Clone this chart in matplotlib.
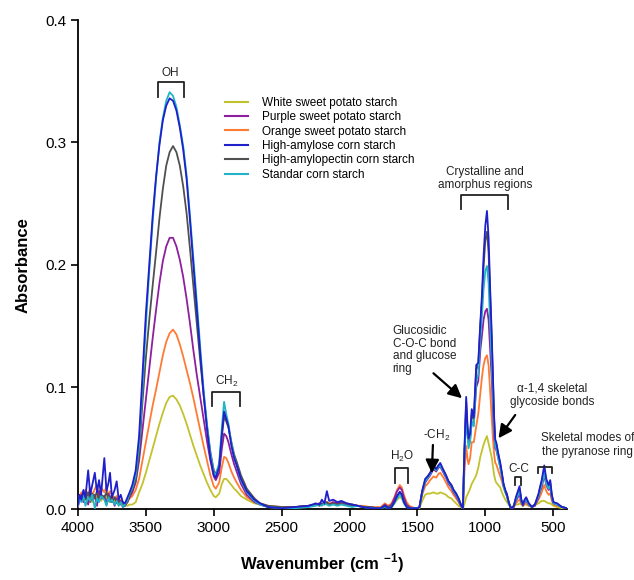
import matplotlib
matplotlib.use("Agg")
import matplotlib.pyplot as plt

plt.rcParams['font.family'] = ['Liberation Sans', 'DejaVu Sans']
plt.rcParams['mathtext.fontset'] = 'custom'
plt.rcParams['mathtext.rm'] = 'Liberation Sans'
plt.rcParams['mathtext.bf'] = 'Liberation Sans:bold'

# ---------------- data ----------------
wavenumber = [
    4000, 3990, 3975, 3960, 3945, 3925, 3910, 3895, 3876, 3860, 3845, 3830, 3806,
    3790, 3775, 3764, 3750, 3730, 3715, 3700, 3685, 3670, 3654, 3635, 3620,
    3600, 3575, 3550, 3525, 3500, 3475, 3450, 3425, 3400, 3375, 3350, 3325, 3300,
    3275, 3250, 3225, 3200, 3175, 3150, 3125, 3100, 3075, 3050, 3025, 3000,
    2985, 2960, 2940, 2924, 2908, 2892, 2870, 2850, 2831, 2800, 2757, 2700,
    2659, 2600, 2500, 2400, 2300, 2250, 2220, 2204, 2185, 2167,
    2150, 2120, 2090, 2060, 2020, 1980, 1940, 1900, 1850, 1800,
    1770, 1740, 1715, 1690, 1670, 1650, 1630, 1615, 1600, 1580, 1560, 1540, 1520, 1500,
    1485, 1465, 1443, 1425, 1406, 1382, 1362, 1345, 1332, 1308, 1290, 1271, 1250, 1234, 1215, 1197,
    1180, 1165, 1155, 1141, 1132, 1124, 1112, 1100, 1085, 1067, 1052, 1037,
    1025, 1013, 1000, 988, 976, 964, 952, 944, 935, 927, 920, 905,
    890, 878, 866, 853, 841, 828, 816, 804, 790, 775, 760, 748, 735, 723, 711, 699,
    680, 657, 635, 608, 596, 585, 566, 551, 534, 522, 510, 498, 470, 436, 400,
]

white_sweet_potato = [
    0.005, 0.011, 0.008, 0.013, 0.009, 0.014, 0.010, 0.006, 0.012, 0.009, 0.013, 0.007, 0.011,
    0.008, 0.012, 0.006, 0.010, 0.007, 0.009, 0.005, 0.007, 0.003, 0.004, 0.003, 0.004,
    0.004, 0.006, 0.014, 0.021, 0.030, 0.040, 0.050, 0.060, 0.070, 0.079, 0.087, 0.092, 0.093,
    0.090, 0.085, 0.078, 0.070, 0.061, 0.052, 0.044, 0.036, 0.029, 0.022, 0.016, 0.011,
    0.010, 0.013, 0.021, 0.025, 0.025, 0.023, 0.020, 0.017, 0.015, 0.011, 0.008, 0.005,
    0.004, 0.002, 0.002, 0.002, 0.003, 0.004, 0.005, 0.004, 0.005, 0.006,
    0.004, 0.005, 0.004, 0.005, 0.004, 0.004, 0.003, 0.002, 0.002, 0.001,
    0.001, 0.003, 0.002, 0.002, 0.005, 0.008, 0.010, 0.009, 0.006, 0.003, 0.001, 0.001, 0.001, 0.001,
    0.001, 0.007, 0.012, 0.013, 0.013, 0.014, 0.013, 0.013, 0.014, 0.013, 0.012, 0.010, 0.009, 0.007, 0.005, 0.003,
    0.002, 0.001, 0.004, 0.010, 0.012, 0.014, 0.017, 0.021, 0.024, 0.028, 0.034, 0.043,
    0.048, 0.053, 0.057, 0.060, 0.054, 0.048, 0.042, 0.035, 0.028, 0.024, 0.022, 0.020,
    0.018, 0.014, 0.011, 0.008, 0.006, 0.004, 0.003, 0.002, 0.003, 0.004, 0.004, 0.005, 0.004, 0.003, 0.004, 0.004,
    0.003, 0.003, 0.004, 0.005, 0.006, 0.007, 0.007, 0.006, 0.005, 0.005, 0.004, 0.003, 0.002, 0.001, 0.001,
]

purple_sweet_potato = [
    0.002, 0.008, 0.012, 0.006, 0.013, 0.004, 0.014, 0.008, 0.012, 0.003, 0.015, 0.009, 0.011,
    0.004, 0.013, 0.007, 0.010, 0.003, 0.009, 0.004, 0.007, 0.002, 0.003, 0.006, 0.010,
    0.014, 0.022, 0.040, 0.065, 0.090, 0.115, 0.140, 0.163, 0.185, 0.203, 0.215, 0.222, 0.222,
    0.215, 0.204, 0.190, 0.172, 0.152, 0.130, 0.110, 0.092, 0.074, 0.056, 0.040, 0.027,
    0.024, 0.030, 0.050, 0.062, 0.060, 0.055, 0.045, 0.037, 0.031, 0.021, 0.012, 0.006,
    0.004, 0.002, 0.001, 0.002, 0.003, 0.004, 0.005, 0.004, 0.006, 0.005,
    0.004, 0.006, 0.005, 0.006, 0.004, 0.004, 0.003, 0.002, 0.002, 0.001,
    0.001, 0.004, 0.002, 0.004, 0.009, 0.015, 0.018, 0.016, 0.010, 0.004, 0.002, 0.001, 0.001, 0.001,
    0.002, 0.014, 0.022, 0.025, 0.028, 0.033, 0.031, 0.034, 0.035, 0.030, 0.026, 0.021, 0.018, 0.014, 0.011, 0.007,
    0.003, 0.001, 0.040, 0.080, 0.063, 0.055, 0.058, 0.072, 0.070, 0.100, 0.105, 0.130,
    0.142, 0.155, 0.162, 0.164, 0.155, 0.130, 0.105, 0.082, 0.060, 0.050, 0.049, 0.042,
    0.035, 0.028, 0.020, 0.015, 0.013, 0.006, 0.002, 0.001, 0.002, 0.007, 0.010, 0.012, 0.006, 0.003, 0.006, 0.007,
    0.004, 0.002, 0.003, 0.010, 0.015, 0.018, 0.028, 0.020, 0.016, 0.018, 0.009, 0.005, 0.004, 0.002, 0.001,
]

orange_sweet_potato = [
    0.006, 0.010, 0.014, 0.009, 0.016, 0.012, 0.018, 0.011, 0.017, 0.020, 0.012, 0.018, 0.014,
    0.019, 0.010, 0.015, 0.012, 0.009, 0.011, 0.006, 0.008, 0.005, 0.004, 0.007, 0.009,
    0.011, 0.016, 0.025, 0.040, 0.055, 0.070, 0.085, 0.098, 0.112, 0.126, 0.137, 0.144, 0.147,
    0.143, 0.135, 0.125, 0.114, 0.103, 0.091, 0.078, 0.065, 0.052, 0.040, 0.028, 0.019,
    0.017, 0.022, 0.035, 0.043, 0.042, 0.038, 0.031, 0.026, 0.022, 0.016, 0.010, 0.006,
    0.005, 0.003, 0.002, 0.002, 0.003, 0.004, 0.005, 0.004, 0.005, 0.006,
    0.005, 0.006, 0.004, 0.005, 0.005, 0.004, 0.003, 0.003, 0.002, 0.002,
    0.002, 0.005, 0.003, 0.005, 0.010, 0.016, 0.020, 0.018, 0.012, 0.006, 0.003, 0.002, 0.001, 0.001,
    0.002, 0.012, 0.019, 0.021, 0.024, 0.027, 0.026, 0.029, 0.030, 0.026, 0.022, 0.018, 0.015, 0.012, 0.009, 0.006,
    0.003, 0.001, 0.028, 0.052, 0.042, 0.037, 0.042, 0.055, 0.055, 0.068, 0.078, 0.095,
    0.108, 0.118, 0.124, 0.126, 0.118, 0.095, 0.072, 0.058, 0.045, 0.038, 0.037, 0.032,
    0.027, 0.023, 0.018, 0.014, 0.011, 0.006, 0.002, 0.001, 0.002, 0.005, 0.007, 0.008, 0.005, 0.003, 0.005, 0.005,
    0.003, 0.002, 0.003, 0.008, 0.011, 0.014, 0.020, 0.015, 0.012, 0.013, 0.007, 0.004, 0.003, 0.002, 0.001,
]

high_amylose_corn = [
    0.004, 0.012, 0.008, 0.016, 0.010, 0.032, 0.012, 0.020, 0.030, 0.014, 0.024, 0.012, 0.042,
    0.015, 0.022, 0.030, 0.010, 0.016, 0.023, 0.008, 0.012, 0.006, 0.005, 0.010, 0.014,
    0.020, 0.032, 0.060, 0.110, 0.160, 0.200, 0.240, 0.272, 0.298, 0.318, 0.330, 0.336, 0.334,
    0.326, 0.312, 0.294, 0.270, 0.236, 0.200, 0.165, 0.128, 0.094, 0.066, 0.042, 0.028,
    0.026, 0.035, 0.062, 0.080, 0.074, 0.068, 0.052, 0.042, 0.036, 0.025, 0.015, 0.008,
    0.005, 0.002, 0.001, 0.002, 0.003, 0.005, 0.004, 0.008, 0.005, 0.015,
    0.007, 0.008, 0.006, 0.007, 0.005, 0.004, 0.003, 0.002, 0.001, 0.001,
    0.001, 0.003, 0.001, 0.002, 0.006, 0.011, 0.0145, 0.012, 0.006, 0.002, 0.001, 0.001, 0.001, 0.001,
    0.002, 0.015, 0.025, 0.027, 0.030, 0.036, 0.033, 0.036, 0.038, 0.032, 0.028, 0.023, 0.020, 0.016, 0.013, 0.009,
    0.004, 0.001, 0.045, 0.092, 0.070, 0.058, 0.062, 0.082, 0.075, 0.118, 0.120, 0.152,
    0.175, 0.207, 0.232, 0.244, 0.222, 0.179, 0.140, 0.109, 0.075, 0.057, 0.055, 0.046,
    0.038, 0.030, 0.021, 0.016, 0.012, 0.006, 0.002, 0.001, 0.003, 0.010, 0.015, 0.019, 0.008, 0.004, 0.008, 0.010,
    0.005, 0.002, 0.004, 0.013, 0.019, 0.024, 0.036, 0.025, 0.020, 0.024, 0.012, 0.006, 0.005, 0.002, 0.001,
]

high_amylopectin_corn = [
    0.004, 0.010, 0.007, 0.012, 0.008, 0.014, 0.006, 0.013, 0.009, 0.015, 0.008, 0.012, 0.010,
    0.014, 0.007, 0.011, 0.006, 0.010, 0.005, 0.008, 0.004, 0.006, 0.003, 0.007, 0.011,
    0.016, 0.024, 0.045, 0.088, 0.124, 0.155, 0.183, 0.210, 0.238, 0.262, 0.281, 0.292, 0.297,
    0.292, 0.281, 0.264, 0.242, 0.213, 0.182, 0.152, 0.122, 0.094, 0.068, 0.047, 0.032,
    0.029, 0.036, 0.060, 0.076, 0.072, 0.067, 0.055, 0.045, 0.039, 0.028, 0.017, 0.009,
    0.005, 0.003, 0.002, 0.002, 0.003, 0.004, 0.003, 0.005, 0.004, 0.006,
    0.004, 0.005, 0.004, 0.005, 0.004, 0.003, 0.003, 0.002, 0.002, 0.001,
    0.001, 0.003, 0.002, 0.003, 0.006, 0.011, 0.014, 0.012, 0.007, 0.003, 0.001, 0.001, 0.001, 0.001,
    0.002, 0.015, 0.024, 0.027, 0.030, 0.035, 0.033, 0.036, 0.037, 0.032, 0.028, 0.023, 0.020, 0.016, 0.013, 0.009,
    0.004, 0.001, 0.044, 0.088, 0.067, 0.057, 0.060, 0.078, 0.073, 0.114, 0.118, 0.150,
    0.170, 0.198, 0.220, 0.227, 0.210, 0.172, 0.135, 0.105, 0.073, 0.056, 0.054, 0.045,
    0.037, 0.029, 0.020, 0.015, 0.011, 0.006, 0.002, 0.001, 0.003, 0.009, 0.014, 0.017, 0.008, 0.004, 0.007, 0.009,
    0.005, 0.002, 0.004, 0.012, 0.018, 0.022, 0.033, 0.023, 0.019, 0.022, 0.011, 0.006, 0.004, 0.002, 0.001,
]

standard_corn = [
    0.003, 0.009, 0.006, 0.011, 0.003, 0.010, 0.007, 0.012, 0.001, 0.009, 0.006, 0.011, 0.008,
    0.003, 0.010, 0.006, 0.008, 0.004, 0.007, 0.003, 0.006, 0.002, 0.004, 0.008, 0.013,
    0.018, 0.028, 0.052, 0.100, 0.150, 0.195, 0.235, 0.270, 0.300, 0.320, 0.334, 0.341, 0.338,
    0.329, 0.314, 0.297, 0.273, 0.240, 0.205, 0.170, 0.133, 0.098, 0.070, 0.046, 0.030,
    0.028, 0.038, 0.068, 0.088, 0.078, 0.070, 0.054, 0.043, 0.036, 0.024, 0.014, 0.007,
    0.004, 0.002, 0.001, 0.001, 0.002, 0.003, 0.004, 0.003, 0.005, 0.004,
    0.003, 0.004, 0.003, 0.004, 0.003, 0.002, 0.003, 0.002, 0.001, 0.001,
    0.001, 0.002, 0.001, 0.002, 0.005, 0.009, 0.012, 0.010, 0.005, 0.002, 0.001, 0.001, 0.001, 0.001,
    0.002, 0.014, 0.023, 0.026, 0.029, 0.034, 0.032, 0.035, 0.036, 0.031, 0.027, 0.022, 0.019, 0.015, 0.012, 0.008,
    0.004, 0.001, 0.040, 0.082, 0.062, 0.050, 0.055, 0.072, 0.068, 0.105, 0.110, 0.140,
    0.158, 0.180, 0.195, 0.199, 0.185, 0.150, 0.118, 0.092, 0.066, 0.052, 0.050, 0.042,
    0.034, 0.027, 0.019, 0.014, 0.011, 0.005, 0.002, 0.001, 0.003, 0.008, 0.012, 0.015, 0.007, 0.004, 0.007, 0.008,
    0.004, 0.002, 0.004, 0.011, 0.016, 0.020, 0.030, 0.021, 0.017, 0.020, 0.010, 0.005, 0.004, 0.002, 0.001,
]

series_labels = [
    "White sweet potato starch",
    "Purple sweet potato starch",
    "Orange sweet potato starch",
    "High-amylose corn starch",
    "High-amylopectin corn starch",
    "Standar corn starch",
]
series_values = [white_sweet_potato, purple_sweet_potato, orange_sweet_potato,
                 high_amylose_corn, high_amylopectin_corn, standard_corn]
series_colors = ["#c2c22c", "#8e1f9e", "#ff7b33", "#1f1fcc", "#505050", "#22b4c6"]
series_z = [3, 5, 4, 7, 6, 6.5]

for name, vals in zip(series_labels, series_values):
    if len(vals) != len(wavenumber):
        raise SystemExit(f"{name}: {len(vals)} vs {len(wavenumber)}")

x_ticks = [4000, 3500, 3000, 2500, 2000, 1500, 1000, 500]
y_ticks = [0.0, 0.1, 0.2, 0.3, 0.4]

# ---------------- figure ----------------
fig = plt.figure(figsize=(6.34, 5.80), dpi=100)
ax = fig.add_axes([0.123, 0.1216, 0.771, 0.8439])

handles = []
for lab, vals, col, z in zip(series_labels, series_values, series_colors, series_z):
    h, = ax.plot(wavenumber, vals, color=col, lw=1.3, label=lab, zorder=z)
    handles.append(h)

ax.set_xlim(4000, 400)
ax.set_ylim(0, 0.4)
ax.set_xticks(x_ticks)
ax.set_yticks(y_ticks)
ax.set_yticklabels([f"{v:.1f}" for v in y_ticks])
ax.tick_params(direction='out', length=5, width=1.2, labelsize=11, pad=3)
for s in ['top', 'right']:
    ax.spines[s].set_visible(False)
for s in ['left', 'bottom']:
    ax.spines[s].set_linewidth(1.3)

ax.set_ylabel("Absorbance", fontsize=12, fontweight='bold')
ax.yaxis.set_label_coords(-0.098, 0.5)
ax.set_xlabel(r"Wavenumber (cm $^{\mathbf{-1}}$)", fontsize=12, fontweight='bold')
ax.xaxis.set_label_coords(0.50, -0.086)

leg = ax.legend(handles=handles, loc='upper left', bbox_to_anchor=(0.30, 0.843),
                frameon=False, fontsize=8.5, handlelength=2.0, handletextpad=1.2,
                labelspacing=0.2, borderaxespad=0, borderpad=0)
for lh in leg.get_lines():
    lh.set_linewidth(1.5)

# ---------------- annotations ----------------
tk = dict(fontsize=8.5, color='#222222')


def bracket(x0, x1, ytop, ybot):
    ax.plot([x0, x0, x1, x1], [ybot, ytop, ytop, ybot], color='#222222', lw=1.3,
            clip_on=False, zorder=10)


# OH
bracket(3413, 3217, 0.349, 0.337)
ax.text(3318, 0.357, "OH", ha='center', va='center', **tk)
# CH2
bracket(3015, 2806, 0.0963, 0.0846)
ax.text(2908, 0.1044, r"CH$_2$", ha='center', va='center', **tk)
# Crystalline
bracket(1178, 836, 0.257, 0.2453)
ax.text(1000, 0.2705, "Crystalline and\namorphus regions", ha='center', va='center',
        linespacing=1.15, **tk)
# H2O
bracket(1664, 1566, 0.0342, 0.0219)
ax.text(1612, 0.0431, r"H$_2$O", ha='center', va='center', **tk)
# C-C
bracket(780, 738, 0.0266, 0.0200)
ax.text(755, 0.0327, "C-C", ha='center', va='center', **tk)
# Skeletal
bracket(615, 510, 0.035, 0.0296)
ax.text(245, 0.0527, "Skeletal modes of\nthe pyranose ring", ha='center', va='center',
        linespacing=1.15, **tk)

arrow = dict(arrowstyle='-|>', color='black', lw=1.6, mutation_scale=20,
             shrinkA=0, shrinkB=0)
# Glucosidic
ax.text(1682, 0.1303, "Glucosidic\nC-O-C bond\nand glucose\nring", ha='left', va='center',
        linespacing=1.1, **tk)
ax.annotate("", xy=(1172, 0.0909), xytext=(1382, 0.1113), arrowprops=arrow, zorder=10)
# alpha-1,4
ax.text(507, 0.0932, "\u03b1-1,4 skeletal\nglycoside bonds", ha='center', va='center',
        linespacing=1.15, **tk)
ax.annotate("", xy=(903, 0.0582), xytext=(780, 0.0772), arrowprops=arrow, zorder=10)
# -CH2
ax.text(1357, 0.0609, r"-CH$_2$", ha='center', va='center', **tk)
ax.annotate("", xy=(1394, 0.0296), xytext=(1386, 0.0527), arrowprops=arrow, zorder=10)

fig.savefig("out.png", dpi=100)
